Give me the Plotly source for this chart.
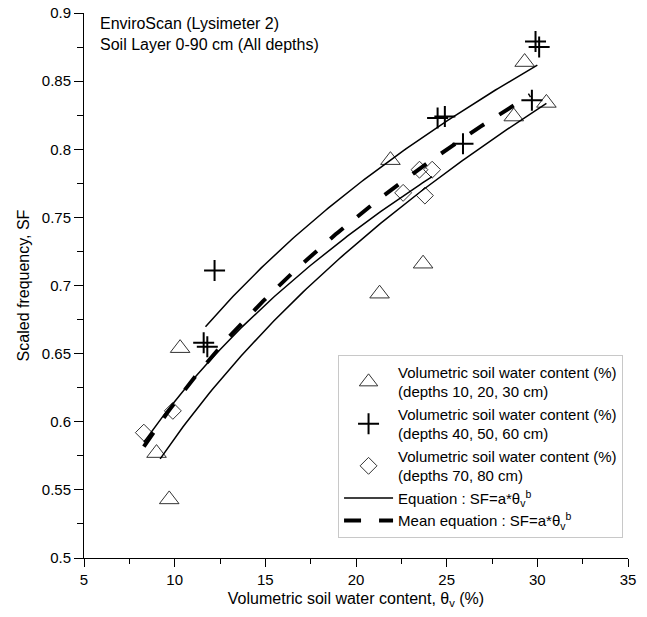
import numpy as np
import plotly.graph_objects as go

# --- data ---
tri_x = [9.0, 9.7, 10.3, 21.3, 21.9, 23.7, 28.7, 29.3, 30.5]
tri_y = [0.577, 0.543, 0.654, 0.694, 0.792, 0.716, 0.824, 0.864, 0.834]

plus_x = [11.6, 11.8, 12.2, 24.5, 24.9, 25.9, 29.7, 29.9, 30.1]
plus_y = [0.658, 0.655, 0.711, 0.823, 0.824, 0.804, 0.836, 0.879, 0.875]

dia_x = [8.3, 9.9, 22.6, 23.5, 23.8, 24.2]
dia_y = [0.592, 0.608, 0.768, 0.785, 0.766, 0.785]

# power-law fits SF = a * theta^b for each depth group
eq_a = [0.2859, 0.3467, 0.3312]
eq_b = [0.3131, 0.2677, 0.2688]
eq_xmin = [9.2, 11.7, 8.3]
eq_xmax = [30.5, 30.0, 24.2]

mean_a = 0.3158
mean_b = 0.2887
mean_xmin = 8.3
mean_xmax = 29.6

x_ticks = [5, 10, 15, 20, 25, 30, 35]
y_ticks = [0.5, 0.55, 0.6, 0.65, 0.7, 0.75, 0.8, 0.85, 0.9]

FONT = "Liberation Sans, Arial, sans-serif"
label = "Volumetric soil water content (%)"

fig = go.Figure()

fig.add_trace(go.Scatter(
    x=tri_x, y=tri_y, mode="markers",
    name=label + "<br>(depths 10, 20, 30 cm)",
    marker=dict(symbol="triangle-up-open", size=17, color="#333333",
                line=dict(width=1, color="#333333")),
))
fig.add_trace(go.Scatter(
    x=plus_x, y=plus_y, mode="markers",
    name=label + "<br>(depths 40, 50, 60 cm)",
    marker=dict(symbol="cross-thin", size=15, color="black",
                line=dict(width=2, color="black")),
))
fig.add_trace(go.Scatter(
    x=dia_x, y=dia_y, mode="markers",
    name=label + "<br>(depths 70, 80 cm)",
    marker=dict(symbol="diamond-open", size=13, color="#333333",
                line=dict(width=1, color="#333333")),
))

for i in range(len(eq_a)):
    xs = np.linspace(eq_xmin[i], eq_xmax[i], 120)
    ys = eq_a[i] * xs ** eq_b[i]
    fig.add_trace(go.Scatter(
        x=xs, y=ys, mode="lines",
        name="Equation : SF=a*θ<sub>v</sub><sup>b</sup>",
        line=dict(color="black", width=1.5),
        showlegend=(i == 0), legendgroup="eq",
    ))

xs = np.linspace(mean_xmin, mean_xmax, 150)
ys = mean_a * xs ** mean_b
fig.add_trace(go.Scatter(
    x=xs, y=ys, mode="lines",
    name="Mean equation : SF=a*θ<sub>v</sub><sup>b</sup>",
    line=dict(color="black", width=4, dash="17px,18px"),
))

fig.add_annotation(
    x=0.026, y=1.0, xref="paper", yref="paper",
    xanchor="left", yanchor="top", align="left", showarrow=False,
    text="EnviroScan (Lysimeter 2)<br>Soil Layer 0-90 cm (All depths)",
    font=dict(family=FONT, size=16, color="black"),
)

fig.update_layout(
    width=647, height=617,
    margin=dict(l=84, r=19, t=13, b=59, autoexpand=False),
    paper_bgcolor="white", plot_bgcolor="white",
    font=dict(family=FONT, size=15, color="black"),
    showlegend=True,
    legend=dict(
        x=0.467, y=0.037, xanchor="left", yanchor="bottom",
        bgcolor="white", bordercolor="#c8c8c8", borderwidth=1,
        font=dict(family=FONT, size=15, color="black"),
        tracegroupgap=0, itemwidth=49,
    ),
)

fig.update_xaxes(
    range=[5, 35], tickvals=x_ticks, ticktext=[str(v) for v in x_ticks],
    showline=True, linecolor="black", linewidth=1, mirror=False,
    ticks="outside", ticklen=8, tickwidth=1, tickcolor="black",
    showgrid=False, zeroline=False,
    minor=dict(dtick=2.5, ticks="outside", ticklen=5, tickcolor="black", showgrid=False),
    title=dict(text="Volumetric soil water content, θ<sub>v</sub> (%)",
               font=dict(family=FONT, size=16), standoff=5),
    tickfont=dict(family=FONT, size=15),
)
fig.update_yaxes(
    range=[0.5, 0.9], tickvals=y_ticks, ticktext=[f"{v:g}" for v in y_ticks],
    showline=True, linecolor="black", linewidth=1, mirror=False,
    ticks="outside", ticklen=9, tickwidth=1, tickcolor="black",
    showgrid=False, zeroline=False,
    minor=dict(dtick=0.025, ticks="outside", ticklen=6, tickcolor="black", showgrid=False),
    title=dict(text="Scaled frequency, SF", font=dict(family=FONT, size=16), standoff=8),
    tickfont=dict(family=FONT, size=15),
)

# remove the browser's default 8px body margin so the figure sits at the page origin
fig.write_html("out.html", config={"displayModeBar": False},
               post_script="document.body.style.margin='0';")
